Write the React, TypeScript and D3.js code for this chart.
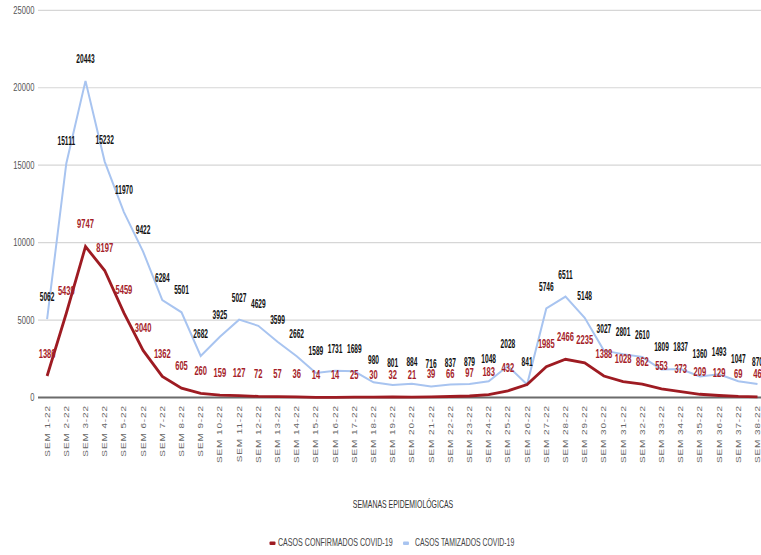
import React from "react";
import * as d3 from "d3";

const categories: string[] = Array.from({ length: 38 }, (_, i) => `SEM ${i + 1}-22`);

const tamizados: number[] = [
  5062, 15111, 20443, 15232, 11970, 9422, 6284, 5501, 2682, 3925, 5027, 4629, 3599, 2662,
  1589, 1731, 1689, 980, 801, 884, 716, 837, 879, 1048, 2028, 841, 5746, 6511, 5148, 3027,
  2801, 2610, 1809, 1837, 1360, 1493, 1047, 870,
];

const confirmados: number[] = [
  1386, 5439, 9747, 8197, 5459, 3040, 1362, 605, 260, 159, 127, 72, 57, 36, 14, 14, 25, 30,
  32, 21, 39, 66, 97, 183, 432, 841, 1985, 2466, 2235, 1388, 1028, 862, 553, 373, 209, 129,
  69, 46,
];

// red label hidden where it coincides with the black one
const hiddenRedLabels: number[] = [25];

const yTicks: number[] = [0, 5000, 10000, 15000, 20000, 25000];

const seriesNames: string[] = ["CASOS CONFIRMADOS COVID-19", "CASOS TAMIZADOS COVID-19"];

const W = 761;
const H = 555;
const RED = "#9e1b22";
const RED_TXT = "#a51d29";
const BLUE = "#a8c4f0";
const FONT = "'Liberation Sans', Arial, sans-serif";

export default function App() {
  const x = d3
    .scalePoint<string>()
    .domain(categories)
    .range([37.5, 37.5 + 19.2 * 38])
    .padding(0.5);
  const y = d3.scaleLinear().domain([0, 25000]).range([397.5, 10.3]);

  const line = d3
    .line<number>()
    .x((_, i) => x(categories[i]) as number)
    .y((d) => y(d))
    .curve(d3.curveLinear);

  return (
    <svg
      width={W}
      height={H}
      style={{ position: "absolute", left: 0, top: 0, background: "#fff" }}
      fontFamily={FONT}
    >
      <rect x={0} y={0} width={W} height={H} fill="#fff" />
      {yTicks.map((t) => (
        <g key={t}>
          {t !== 0 && (
            <line x1={38} x2={W} y1={y(t)} y2={y(t)} stroke="#d6d6d6" strokeWidth={1.2} />
          )}
          <text
            transform={`translate(34.5,${y(t) + 3.5}) scale(0.76,1)`}
            textAnchor="end"
            fontSize={10}
            fill="#555"
          >
            {t}
          </text>
        </g>
      ))}
      <line x1={38} x2={W} y1={y(0)} y2={y(0)} stroke="#6b6b6b" strokeWidth={2} />

      {categories.map((c) => (
        <text
          key={c}
          transform={`translate(${x(c)},405) rotate(-90) scale(1,0.72)`}
          textAnchor="end"
          dominantBaseline="central"
          fontSize={10}
          letterSpacing={0.9}
          fill="#666"
        >
          {c}
        </text>
      ))}

      <path d={line(tamizados) || ""} fill="none" stroke={BLUE} strokeWidth={2} />
      <path d={line(confirmados) || ""} fill="none" stroke={RED} strokeWidth={2.8} />

      {confirmados.map((v, i) =>
        hiddenRedLabels.includes(i) ? null : (
          <text
            key={"r" + i}
            transform={`translate(${x(categories[i])},${y(v) - 18.5}) scale(0.56,1)`}
            textAnchor="middle"
            fontSize={13.5}
            fontWeight="bold"
            fill={RED_TXT}
          >
            {v}
          </text>
        )
      )}
      {tamizados.map((v, i) => (
        <text
          key={"b" + i}
          transform={`translate(${x(categories[i])},${y(v) - 18}) scale(0.55,1)`}
          textAnchor="middle"
          fontSize={12}
          fontWeight="bold"
          fill="#111"
        >
          {v}
        </text>
      ))}

      <text
        transform={`translate(403,508) scale(0.66,1)`}
        textAnchor="middle"
        fontSize={10.5}
        fill="#333"
      >
        SEMANAS EPIDEMIOLÓGICAS
      </text>

      <g>
        <rect x={269.5} y={541.5} width={6} height={3.5} rx={1} fill={RED} />
        <text transform={`translate(278,546) scale(0.71,1)`} fontSize={10} fill="#444">
          {seriesNames[0]}
        </text>
        <rect x={403} y={541.5} width={6} height={3.5} rx={1} fill={BLUE} />
        <text transform={`translate(415,546) scale(0.69,1)`} fontSize={10} fill="#444">
          {seriesNames[1]}
        </text>
      </g>
    </svg>
  );
}
